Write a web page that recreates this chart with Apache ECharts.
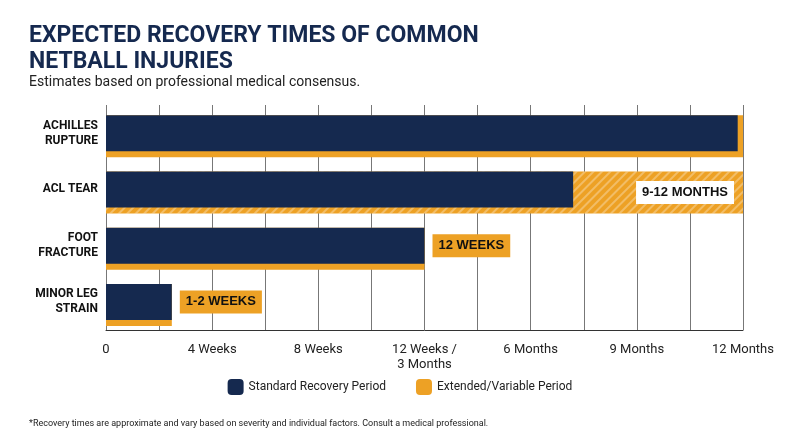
<!DOCTYPE html>
<html lang="en">
<head>
<meta charset="UTF-8">
<script src="https://cdn.jsdelivr.net/npm/echarts@6/dist/echarts.min.js"></script>
<title>Netball injuries</title>
<style>body{margin:0;background:#fff}</style>
</head>
<body>
<div id="chart" style="width:800px;height:447px;"></div>
<script>
var injuries = ['ACHILLES\nRUPTURE', 'ACL TEAR', 'FOOT\nFRACTURE', 'MINOR LEG\nSTRAIN'];
// axis units: 1 step = 0, 4 wk, 8 wk, 12 wk/3 mo, 6 mo, 9 mo, 12 mo
var standardPeriod = [5.95, 4.4, 3, 0.62];
var totalPeriod = [6, 6, 3, 0.62];
var durationLabels = ['12 MONTHS', '9-12 MONTHS', '12 WEEKS', '1-2 WEEKS'];
var tickLabels = ['0', '4 Weeks', '8 Weeks', '12 Weeks /\n3 Months', '6 Months', '9 Months', '12 Months'];

var NAVY = '#15294f', ORANGE = '#eda125';
var chart = echarts.init(document.getElementById('chart'));

var orangeData = totalPeriod.map(function (v, i) {
    var item = {value: v, itemStyle: {color: ORANGE}};
    if (i === 1) {
        item.itemStyle.decal = {symbol: 'rect', dashArrayX: [1, 0], dashArrayY: [2, 4],
            rotation: -Math.PI / 4, color: 'rgba(255,255,255,0.3)'};
    }
    if (i < 2) {
        item.label = {show: true, position: 'insideRight', offset: [-4, 0],
            formatter: durationLabels[i], fontWeight: 'bold', fontSize: 13, color: '#111',
            backgroundColor: i === 0 ? ORANGE : '#fff', padding: [5, 6]};
    }
    return item;
});
var navyData = standardPeriod.map(function (v, i) {
    var item = {value: v};
    if (i >= 2) {
        item.label = {show: true, position: 'right', distance: 8,
            formatter: durationLabels[i], fontWeight: 'bold', fontSize: 13, color: '#111',
            backgroundColor: ORANGE, padding: [5, 6]};
    }
    return item;
});

chart.setOption({
    animation: false,
    title: [{
        text: 'EXPECTED RECOVERY TIMES OF COMMON\nNETBALL INJURIES',
        left: 24, top: 18,
        textStyle: {fontSize: 23, fontWeight: 'bold', color: NAVY, lineHeight: 26, fontFamily: 'Roboto'}
    }, {
        text: 'Estimates based on professional medical consensus.',
        left: 24, top: 70,
        textStyle: {fontSize: 14, fontWeight: 'normal', color: '#222', fontFamily: 'Roboto'}
    }, {
        text: '*Recovery times are approximate and vary based on severity and individual factors. Consult a medical professional.',
        left: 24, top: 414,
        textStyle: {fontSize: 9, fontWeight: 'normal', color: '#222', fontFamily: 'Roboto'}
    }],
    legend: {
        bottom: 47, left: 'center', itemGap: 30, itemWidth: 16, itemHeight: 16,
        textStyle: {fontSize: 12, color: '#222', fontFamily: 'Roboto'},
        data: [{name: 'Standard Recovery Period', itemStyle: {color: NAVY}},
               {name: 'Extended/Variable Period', itemStyle: {color: ORANGE}}]
    },
    grid: {left: 106, right: 57, top: 105, bottom: 117},
    xAxis: {
        type: 'value', min: 0, max: 6, interval: 0.5,
        axisLine: {show: true, lineStyle: {color: '#333'}},
        axisTick: {show: false},
        splitLine: {lineStyle: {color: '#777'}},
        axisLabel: {
            fontSize: 13, color: '#222', fontFamily: 'Roboto', margin: 12, lineHeight: 15,
            formatter: function (v) { return Number.isInteger(v) ? tickLabels[v] : ''; }
        }
    },
    yAxis: {
        type: 'category', data: injuries, inverse: true,
        axisLine: {show: false}, axisTick: {show: false},
        axisLabel: {fontSize: 12, fontWeight: 'bold', color: '#111', align: 'right', lineHeight: 15, fontFamily: 'Roboto', margin: 8}
    },
    series: [{
        name: 'Extended/Variable Period', type: 'bar', barWidth: 42,
        data: orangeData, z: 2
    }, {
        name: 'Standard Recovery Period', type: 'bar', barWidth: 36, barGap: '-100%',
        itemStyle: {color: NAVY}, data: navyData, z: 3
    }]
});
</script>
</body>
</html>
